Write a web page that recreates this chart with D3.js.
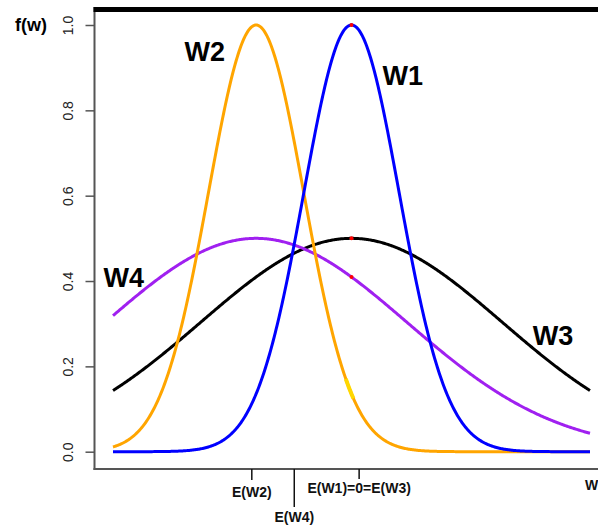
<!DOCTYPE html>
<html>
<head>
<meta charset="utf-8">
<script src="https://d3js.org/d3.v7.min.js"></script>
<style>
  body { margin: 0; background: #fff; }
  text { font-family: "Liberation Sans", Arial, sans-serif; }
</style>
</head>
<body>
<svg id="chart" width="598" height="527"></svg>
<script>
// curve parameters (normal shapes): name, mean, sd, peak height, colour
var names  = ["W1", "W2", "W3", "W4"];
var means  = [0, -2, 0, -2];
var sds    = [1, 1, Math.sqrt(10), Math.sqrt(10)];
var peaks  = [1, 1, 0.5, 0.5];
var colors = ["#0000ff", "#ffa500", "#000000", "#a020f0"];

// where the curve names sit (data units)
var labelX = [0.65, -3.5, 3.8, -5.2];
var labelY = [0.86, 0.915, 0.25, 0.385];

var yTicks = [0, 0.2, 0.4, 0.6, 0.8, 1.0];
var xTickVals   = [-2.09, -1.2, 0.16];
var xTickLabels = ["E(W2)", "E(W4)", "E(W1)=0=E(W3)"];
var xTickLen    = [11, 38, 10];
var xLabelDy    = [28, 53, 24];

var xDomain = [-5, 5];

var svg = d3.select("#chart");

var x = d3.scaleLinear().domain(xDomain).range([113, 590]);
var y = d3.scaleLinear().domain([0, 1]).range([451.7, 25]);

var axisY = 469, axisX = 94.5;

// y axis
var gy = svg.append("g")
    .attr("transform", "translate(" + axisX + ",0)")
    .call(d3.axisLeft(y).tickValues(yTicks).tickFormat(d3.format(".1f")).tickSize(9));
gy.select(".domain").remove();
gy.selectAll(".tick line").attr("stroke", "#555").attr("stroke-width", 1.5);
gy.selectAll(".tick text")
    .attr("transform", "rotate(-90)")
    .attr("x", 0).attr("y", -22).attr("dy", 0)
    .attr("text-anchor", "middle")
    .attr("fill", "#222")
    .style("font-size", "14px");

// frame lines
svg.append("line").attr("x1", axisX).attr("x2", axisX).attr("y1", 7).attr("y2", axisY + 1)
    .attr("stroke", "#555").attr("stroke-width", 2);
svg.append("line").attr("x1", axisX - 1).attr("x2", 598).attr("y1", axisY).attr("y2", axisY)
    .attr("stroke", "#555").attr("stroke-width", 2);
svg.append("line").attr("x1", axisX - 1).attr("x2", 598).attr("y1", 9.5).attr("y2", 9.5)
    .attr("stroke", "#000").attr("stroke-width", 5);

// x ticks
xTickVals.forEach(function(v, i) {
  svg.append("line")
    .attr("x1", x(v)).attr("x2", x(v))
    .attr("y1", axisY).attr("y2", axisY + xTickLen[i])
    .attr("stroke", "#111").attr("stroke-width", 1.5);
  svg.append("text")
    .attr("x", x(v)).attr("y", axisY + xLabelDy[i])
    .attr("text-anchor", "middle")
    .style("font-size", "14px").style("font-weight", "bold")
    .attr("fill", "#111")
    .text(xTickLabels[i]);
});
svg.append("text")
    .attr("x", 585).attr("y", 490)
    .style("font-size", "14px").style("font-weight", "bold")
    .attr("fill", "#111")
    .text("W");

// curves
function dens(i, w) {
  return peaks[i] * Math.exp(-Math.pow(w - means[i], 2) / (2 * sds[i] * sds[i]));
}
var ws = d3.range(xDomain[0], xDomain[1] + 0.0001, 0.02);
var line = d3.line().x(function(d) { return x(d[0]); }).y(function(d) { return y(d[1]); });

[2, 3, 1, 0].forEach(function(i) {
  svg.append("path")
    .datum(ws.map(function(w) { return [w, dens(i, w)]; }))
    .attr("d", line)
    .attr("fill", "none")
    .attr("stroke", colors[i])
    .attr("stroke-width", 3);
});

// highlighted points at w = 0
[0, 2, 3].forEach(function(i) {
  svg.append("circle")
    .attr("cx", x(0)).attr("cy", y(dens(i, 0)))
    .attr("r", 2).attr("fill", "#ff0000");
});
svg.append("path")
    .datum(d3.range(-0.12, 0.06, 0.02).map(function(w) { return [w, dens(1, w)]; }))
    .attr("d", line)
    .attr("fill", "none")
    .attr("stroke", "#ffd700")
    .attr("stroke-width", 4);

// curve names
names.forEach(function(n, i) {
  svg.append("text")
    .attr("x", x(labelX[i])).attr("y", y(labelY[i]))
    .style("font-size", "27px").style("font-weight", "bold")
    .attr("fill", "#000")
    .text(n);
});

svg.append("text")
    .attr("x", 15).attr("y", 31)
    .style("font-size", "18px").style("font-weight", "bold")
    .text("f(w)");
</script>
</body>
</html>
